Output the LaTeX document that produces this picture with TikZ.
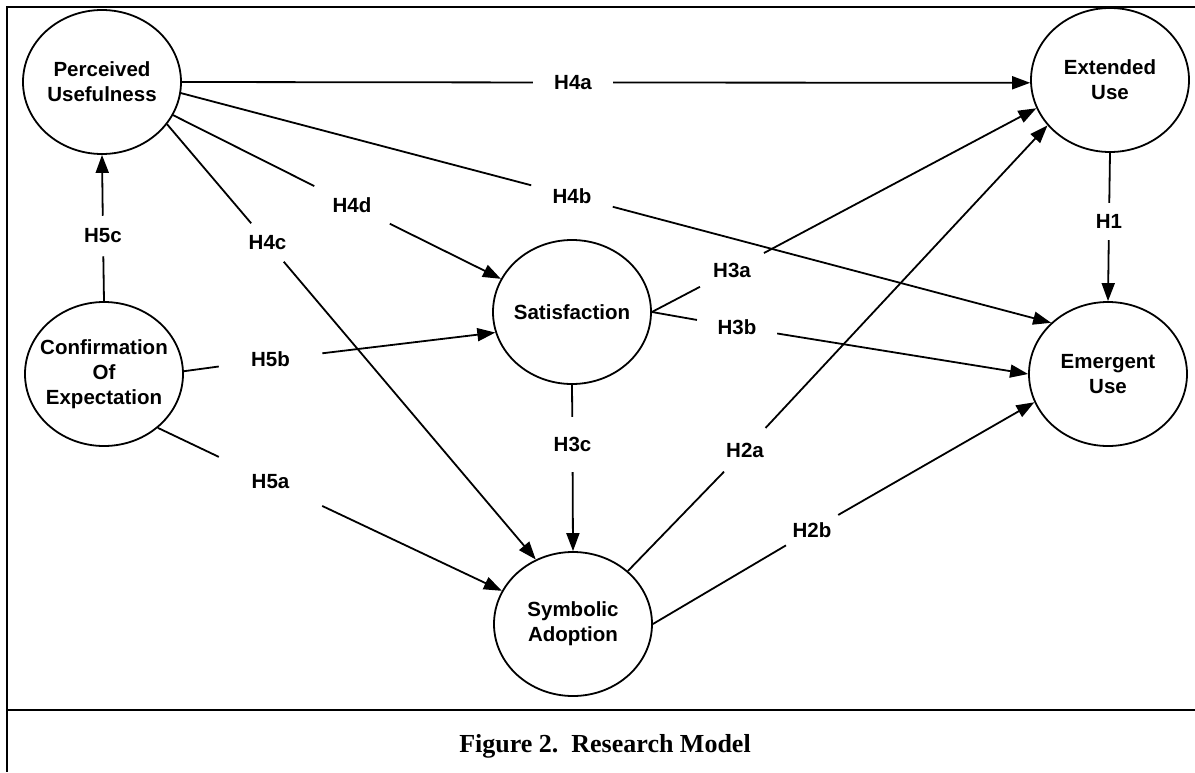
\documentclass[tikz,border=0pt]{standalone}
\usepackage{fontspec}
\setmainfont{Liberation Serif}
\newfontfamily\arialf{Liberation Sans}
\usetikzlibrary{shapes.geometric,arrows.meta}
\begin{document}
\begin{tikzpicture}[x=1pt,y=-1pt,
  cons/.style={ellipse, draw, line width=1.8pt, minimum width=158pt, minimum height=144pt, inner sep=0pt},
  ctext/.style={font=\arialf\bfseries\fontsize{20.5}{25}\selectfont, align=center},
  hyp/.style={circle, inner sep=0pt, minimum size=#1, font=\arialf\bfseries\fontsize{20.5}{25}\selectfont},
  conn/.style={line width=1.8pt},
  arr/.style={line width=1.8pt, -{Triangle[length=18pt,width=13pt]}},
  frameline/.style={line width=2.5pt}
]
\useasboundingbox (0,0) rectangle (1195,772);
\fill[white] (0,0) rectangle (1195,772);
% frame
\draw[frameline] (1195,7) -- (7,7) -- (7,772);
\draw[frameline] (7,710) -- (1195,710);
\node[font=\bfseries\fontsize{26}{30}\selectfont, anchor=base] (cap) at (605,752) {Figure 2.~~Research Model};

% constructs
\node[cons, label={[ctext]center:{Perceived\\Usefulness}}] (pu) at (102,82) {};
\node[cons, label={[ctext]center:{Confirmation\\Of\\Expectation}}] (conf) at (104,374) {};
\node[cons, label={[ctext]center:{Satisfaction}}] (sat) at (572,312) {};
\node[cons, label={[ctext]center:{Extended\\Use}}] (ext) at (1110,80) {};
\node[cons, label={[ctext]center:{Emergent\\Use}}] (emu) at (1108,374) {};
\node[cons, label={[ctext]center:{Symbolic\\Adoption}}] (sym) at (573,624) {};

% hypothesis labels
\node[hyp=80pt] (h4a) at (573,82.5) {H4a};
\node[hyp=84pt] (h4b) at (572,196) {H4b};
\node[hyp=84pt] (h4d) at (352,205) {H4d};
\node[hyp=50pt] (h4c) at (267.5,242.5) {H4c};
\node[hyp=38pt] (h5c) at (103,236) {H5c};
\node[hyp=104pt] (h5b) at (270.5,359.5) {H5b};
\node[hyp=114pt] (h5a) at (270.5,481.5) {H5a};
\node[hyp=72pt] (h3a) at (732,270) {H3a};
\node[hyp=81pt] (h3b) at (737,327) {H3b};
\node[hyp=55pt] (h3c) at (572.5,444.5) {H3c};
\node[hyp=37pt] (h1) at (1109,221.5) {H1};
\node[hyp=60pt] (h2a) at (745,450) {H2a};
\node[hyp=60pt] (h2b) at (812,530) {H2b};

% connectors
\draw[conn] (pu.east) -- (h4a); \draw[arr] (h4a) -- (ext.182);
\draw[conn] (pu.-8) -- (h4b); \draw[arr] (h4b) -- (emu.138);
\draw[conn] (pu.-25) -- (h4d); \draw[arr] (h4d) -- (sat.155);
\draw[conn] (pu.-33.5) -- (h4c); \draw[arr] (h4c) -- (sym.120.5);
\draw[conn] (conf.north) -- (h5c); \draw[arr] (h5c) -- (pu.south);
\draw[conn] (conf.2) -- (h5b); \draw[arr] (h5b) -- (sat.195);
\draw[conn] (conf.-45.6) -- (h5a); \draw[arr] (h5a) -- (sym.155.7);
\draw[conn] (sat.east) -- (h3a); \draw[arr] (h3a) -- (ext.201);
\draw[conn] (sat.east) -- (h3b); \draw[arr] (h3b) -- (emu.west);
\draw[conn] (sat.south) -- (h3c); \draw[arr] (h3c) -- (sym.north);
\draw[conn] (ext.south) -- (h1); \draw[arr] (h1) -- (emu.north);
\draw[conn] (sym.44) -- (h2a); \draw[arr] (h2a) -- (ext.216.6);
\draw[conn] (sym.east) -- (h2b); \draw[arr] (h2b) -- (emu.201.5);
\end{tikzpicture}
\end{document}
